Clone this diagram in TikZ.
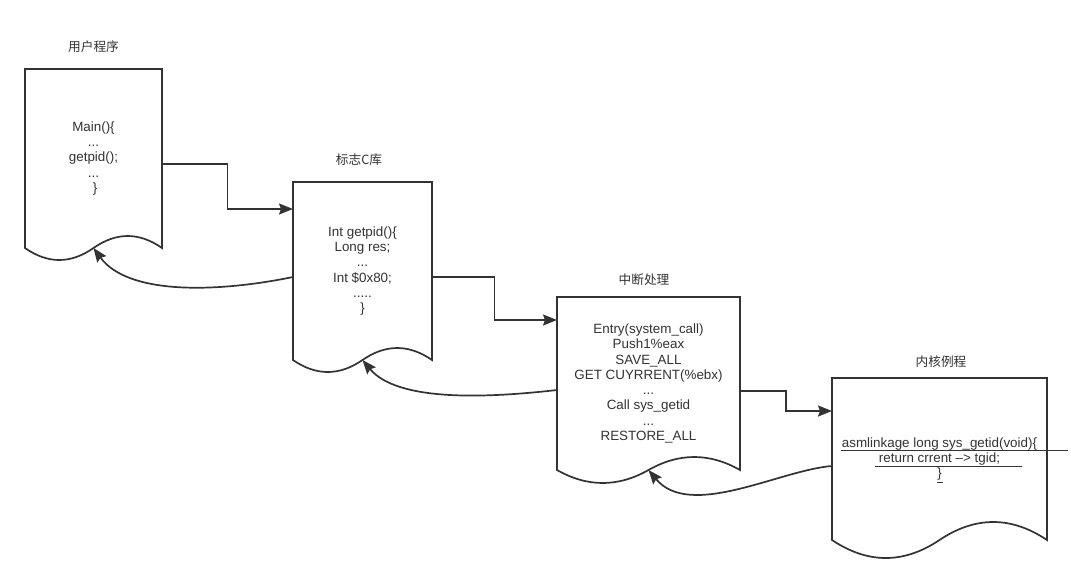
\documentclass[tikz,border=0pt]{standalone}
\usepackage{fontspec}
\setmainfont{Liberation Sans}
\newfontfamily\cjk{Noto Sans CJK SC}
\usetikzlibrary{arrows.meta,calc}
\definecolor{ink}{HTML}{333333}
\tikzset{
  doc/.style={rectangle, inner sep=0pt, outer sep=0pt, align=center, text=ink,
    font={\fontsize{13.4}{15.3}\selectfont}},
  docline/.style={draw=ink, line width=1.7pt, line join=miter},
  title/.style={text=ink, font={\cjk\fontsize{12.7}{14}\selectfont}, inner sep=0pt},
  conn/.style={draw=ink, line width=1.7pt, -{Stealth[length=14pt,width=11pt,inset=2pt]}},
  uline/.style={draw=ink, line width=1pt},
}
\newcommand\docoutline[2]{%
  \draw[docline] let \p1=(#1.north west), \p2=(#1.south east),
    \n1={(\x2-\x1)/6}, \n2={2*#2/3}, \n3={(\x1+\x2)/2} in
    (\p1) -- (\x2,\y1) -- (\p2)
    .. controls (\x2-\n1,\y2+\n2) and (\n3+\n1,\y2+\n2) .. (\n3,\y2)
    .. controls (\n3-\n1,\y2-\n2) and (\x1+\n1,\y2-\n2) .. (\x1,\y2) -- cycle;}
\begin{document}
\begin{tikzpicture}[x=1pt,y=-1pt]
\fill[white] (0,0) rectangle (1071,582);
\useasboundingbox (0,0) rectangle (1071,582);

% documents
\node[doc, minimum width=137pt, minimum height=179pt] (d1) at (93.5,158.5)
  {Main()\{\\...\\getpid();\\...\\\hspace*{3pt}\}};
\node[doc, minimum width=139pt, minimum height=178pt] (d2) at (362.5,271)
  {Int getpid()\{\\Long res;\\...\\Int \$0x80;\\.....\\\}};
\node[doc, minimum width=183pt, minimum height=173pt] (d3) at (648.5,383.5)
  {Entry(system\_call)\\Push1\%eax\\SAVE\_ALL\\GET CUYRRENT(\%ebx)\\...\\Call sys\_getid\\...\\RESTORE\_ALL};
\node[doc, minimum width=215pt, minimum height=162pt] (d4) at (939.5,459)
  {asmlinkage long sys\_getid(void)\{\\return crrent –> tgid;\\\}};

\docoutline{d1}{24}
\docoutline{d2}{24}
\docoutline{d3}{26}
\docoutline{d4}{36}

% underlines in the kernel routine
\draw[uline] (841,450.5) -- (1068,450.5);
\draw[uline] (875,466.5) -- (1022,466.5);
\draw[uline] (937,482.5) -- (943,482.5);

% titles
\node[title] (t1) at (93.5,47) {用户程序};
\node[title] (t2) at (359,160) {标志C库};
\node[title] (t3) at (644,280) {中断处理};
\node[title] (t4) at (941,362) {内核例程};

% attachment points
\coordinate (a1) at (162,164);
\coordinate (b1) at (293,209);
\coordinate (a2) at (432,277);
\coordinate (b2) at (557,320);
\coordinate (a3) at (740,391);
\coordinate (b3) at (832,411);
\coordinate (r2) at (293,277);
\coordinate (r3) at (557,390);
\coordinate (r4) at (832,466);

% calls
\draw[conn] (a1) -| ($(a1)!.5!(b1)$) |- (b1);
\draw[conn] (a2) -| ($(a2)!.5!(b2)$) |- (b2);
\draw[conn] (a3) -| ($(a3)!.5!(b3)$) |- (b3);

% returns
\draw[conn] (r2) .. controls +(-73,15) and +(35,48) .. (d1.south);
\draw[conn] (r3) .. controls +(-70,8) and +(35,42) .. (d2.south);
\draw[conn] (r4) .. controls +(-52,4) and +(41.5,50) .. (d3.south);
\end{tikzpicture}
\end{document}
